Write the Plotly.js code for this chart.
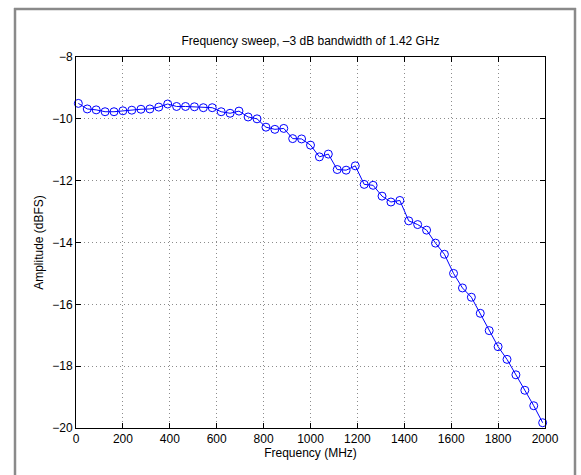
<!DOCTYPE html>
<html>
<head>
<meta charset="utf-8">
<script src="https://cdn.plot.ly/plotly-3.0.1.min.js"></script>
<style>
html,body{margin:0;padding:0;background:#fff;}
#chart{width:581px;height:475px;}
</style>
</head>
<body>
<div id="chart"></div>
<script>
// Frequency points (MHz)
const frequency = [10, 48, 86, 124, 162, 200, 238, 277, 315, 353, 391, 429, 467, 505, 543, 581, 619, 657, 695, 734,
  772, 810, 848, 886, 924, 962, 1000, 1038, 1076, 1114, 1152, 1191, 1229, 1267, 1305, 1343, 1381, 1419, 1457, 1495,
  1533, 1571, 1610, 1648, 1686, 1724, 1762, 1800, 1838, 1876, 1914, 1952, 1990];
// Amplitude (dBFS)
const amplitude = [-9.50, -9.68, -9.71, -9.77, -9.77, -9.74, -9.72, -9.69, -9.68, -9.62, -9.52, -9.60, -9.60, -9.61, -9.64, -9.64, -9.77, -9.82, -9.75, -9.94,
  -10.00, -10.27, -10.34, -10.31, -10.64, -10.65, -10.85, -11.23, -11.14, -11.64, -11.66, -11.52, -12.12, -12.15, -12.50, -12.69, -12.64, -13.30, -13.42, -13.60,
  -14.02, -14.38, -15.00, -15.47, -15.77, -16.29, -16.85, -17.37, -17.78, -18.28, -18.78, -19.28, -19.83];
const xTicks = [0, 200, 400, 600, 800, 1000, 1200, 1400, 1600, 1800, 2000];
const yTicks = [-20, -18, -16, -14, -12, -10, -8];

const W = 581, H = 475;
const M = {l: 76, r: 36, t: 57, b: 47};
const pw = W - M.l - M.r, ph = H - M.t - M.b;
const px = x => (x - M.l) / pw;
const py = y => (H - M.b - y) / ph;

const font = {family: '"Liberation Sans", Arial, Helvetica, sans-serif', size: 12, color: '#000'};
const frameColor = '#8a8a8a';

const axisCommon = {
  showline: true, linecolor: '#000', linewidth: 1, mirror: 'ticks',
  ticks: 'inside', ticklen: 5, tickcolor: '#000', tickwidth: 1,
  showgrid: true, gridcolor: '#8c8c8c', griddash: '1px,3px', gridwidth: 1,
  zeroline: false, tickfont: font
};

const layout = {
  width: W, height: H,
  margin: M,
  paper_bgcolor: '#fff', plot_bgcolor: '#fff',
  font: font,
  showlegend: false,
  title: {text: 'Frequency sweep, \u20133 dB bandwidth of 1.42 GHz', font: font,
          x: 0.5, xref: 'paper', xanchor: 'center', y: 1 - 41 / H, yref: 'container', yanchor: 'middle'},
  xaxis: Object.assign({}, axisCommon, {
    range: [0, 2000], tickvals: xTicks, ticktext: xTicks.map(String),
    title: {text: 'Frequency (MHz)', font: font, standoff: 2}
  }),
  yaxis: Object.assign({}, axisCommon, {
    range: [-20, -8], tickvals: yTicks,
    title: {text: 'Amplitude (dBFS)', font: font, standoff: 6}
  }),
  shapes: [
    {type: 'line', xref: 'paper', yref: 'paper', x0: px(15), x1: px(15), y0: py(8), y1: py(480), line: {color: frameColor, width: 2.5}},
    {type: 'line', xref: 'paper', yref: 'paper', x0: px(14), x1: px(576), y0: py(9), y1: py(9), line: {color: frameColor, width: 2.5}},
    {type: 'line', xref: 'paper', yref: 'paper', x0: px(575), x1: px(575), y0: py(8), y1: py(480), line: {color: frameColor, width: 2.5}}
  ]
};

const trace = {
  type: 'scatter', mode: 'lines+markers',
  x: frequency, y: amplitude,
  line: {color: '#0000ff', width: 1},
  marker: {symbol: 'circle-open', size: 8, color: '#0000ff', line: {width: 1, color: '#0000ff'}},
  cliponaxis: false
};

Plotly.newPlot('chart', [trace], layout, {displayModeBar: false, staticPlot: true});
</script>
</body>
</html>
